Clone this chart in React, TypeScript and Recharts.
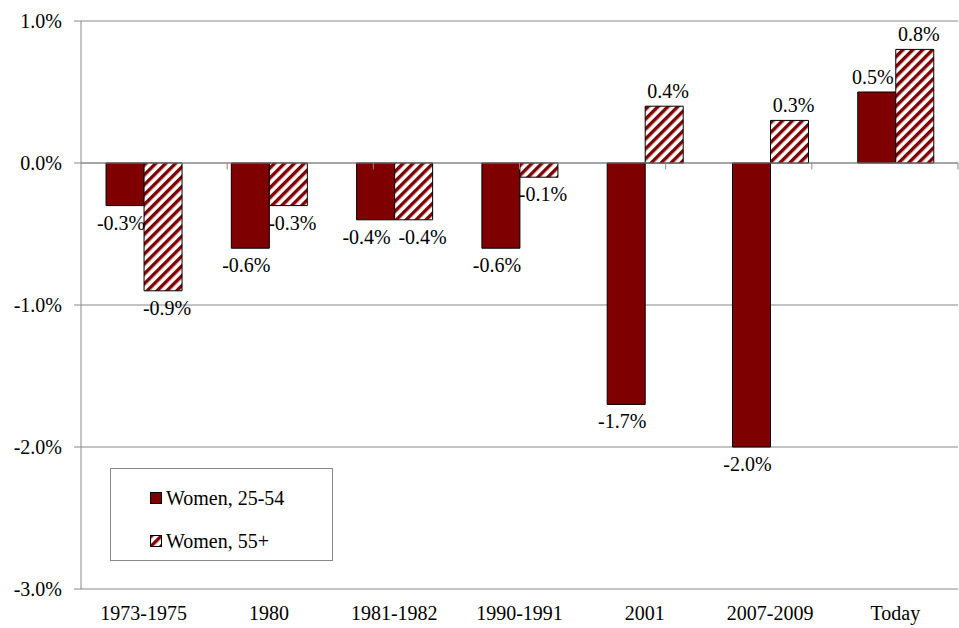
import React from "react";
import {
  BarChart,
  Bar,
  XAxis,
  YAxis,
  CartesianGrid,
  ReferenceLine,
  LabelList,
} from "recharts";

const periods = ["1973-1975", "1980", "1981-1982", "1990-1991", "2001", "2007-2009", "Today"];
const women2554 = [-0.3, -0.6, -0.4, -0.6, -1.7, -2.0, 0.5];
const women55 = [-0.9, -0.3, -0.4, -0.1, 0.4, 0.3, 0.8];
const yTicks = [-3, -2, -1, 0, 1];

const data = periods.map((p, i) => ({ period: p, w1: women2554[i], w2: women55[i] }));
// category boundaries for the small tick marks on the zero line
const boundaries = periods.map((_, i) => i + 1).slice(0, -1);

const FONT = "Liberation Serif, Tinos, Times New Roman, DejaVu Serif, serif";
const FS = 20;
const RED = "#7f0000";

const pct = (v: number) => `${v.toFixed(1)}%`;

// side: -1 for the left bar, +1 for the right bar; labels that would collide get pushed apart
const makeLabel = (side: number, own: number[], other: number[]) => (props: any) => {
  const { x, y, width, height, value, index } = props;
  const top = Math.min(y, y + height);
  const bot = Math.max(y, y + height);
  const cy = value < 0 ? bot + 17 : top - 15;
  const o = other[index];
  const clash = Math.sign(o) === Math.sign(own[index]) && Math.abs(o - own[index]) < 0.15;
  const dx = side * (clash ? 9 : 4);
  return (
    <text
      x={x + width / 2 + dx}
      y={cy}
      textAnchor="middle"
      dominantBaseline="central"
      style={{ fontFamily: FONT, fontSize: FS }}
      fill="#000"
    >
      {pct(value)}
    </text>
  );
};

const LegendBox = () => (
  <div
    style={{
      position: "absolute",
      left: 110,
      top: 468,
      width: 223,
      height: 93,
      border: "1px solid #888",
      background: "#fff",
      boxSizing: "border-box",
      fontFamily: FONT,
      fontSize: FS,
      color: "#000",
      paddingLeft: 39,
      paddingTop: 17,
      whiteSpace: "pre",
    }}
  >
    <div style={{ display: "flex", alignItems: "center", height: 24, marginBottom: 19 }}>
      <svg width={12} height={12} style={{ marginRight: 4 }}>
        <rect x={0.5} y={0.5} width={11} height={11} fill={RED} stroke="#000" />
      </svg>
      Women, 25-54
    </div>
    <div style={{ display: "flex", alignItems: "center", height: 24 }}>
      <svg width={12} height={12} style={{ marginRight: 4 }}>
        <rect x={0.5} y={0.5} width={11} height={11} fill="url(#hatch)" stroke="#000" />
      </svg>
      Women, 55+
    </div>
  </div>
);

const tickStyle = { fontFamily: FONT, fontSize: FS, fill: "#000" };

export default function App() {
  return (
    <div style={{ position: "absolute", left: 0, top: 0, width: 959, height: 628, background: "#fff" }}>
      <svg width={0} height={0} style={{ position: "absolute" }}>
        <defs>
          <pattern
            id="hatch"
            width={7}
            height={7}
            patternUnits="userSpaceOnUse"
            patternTransform="rotate(45)"
          >
            <rect width={7} height={7} fill="#fff" />
            <rect width={3.4} height={7} fill={RED} />
          </pattern>
        </defs>
      </svg>
      <BarChart
        width={959}
        height={628}
        data={data}
        margin={{ top: 21, right: 1, left: 0, bottom: 0 }}
        barCategoryGap="20%"
        barGap={0}
      >
        <CartesianGrid xAxisId="cat" vertical={false} stroke="#888" strokeWidth={1} />
        <XAxis
          xAxisId="cat"
          dataKey="period"
          height={39}
          axisLine={false}
          tickLine={false}
          tick={tickStyle}
          dy={9}
        />
        <XAxis xAxisId="num" type="number" domain={[0, periods.length]} hide />
        <YAxis
          width={81}
          domain={[-3, 1]}
          ticks={yTicks}
          tickFormatter={pct}
          axisLine={{ stroke: "#888" }}
          tickLine={{ stroke: "#888" }}
          tickSize={7}
          tickMargin={12}
          tick={tickStyle}
          allowDataOverflow
        />
        <ReferenceLine xAxisId="cat" y={0} stroke="#888" strokeWidth={1} />
        {boundaries.map((b) => (
          <ReferenceLine
            key={b}
            xAxisId="num"
            segment={[{ x: b, y: 0 }, { x: b, y: -0.045 }]}
            stroke="#888"
            strokeWidth={1}
          />
        ))}
        <Bar xAxisId="cat" dataKey="w1" name="Women, 25-54" fill={RED} stroke="#000" strokeWidth={1} isAnimationActive={false}>
          <LabelList dataKey="w1" content={makeLabel(-1, women2554, women55)} />
        </Bar>
        <Bar xAxisId="cat" dataKey="w2" name="Women, 55+" fill="url(#hatch)" stroke="#000" strokeWidth={1} isAnimationActive={false}>
          <LabelList dataKey="w2" content={makeLabel(1, women55, women2554)} />
        </Bar>
      </BarChart>
      <LegendBox />
    </div>
  );
}
